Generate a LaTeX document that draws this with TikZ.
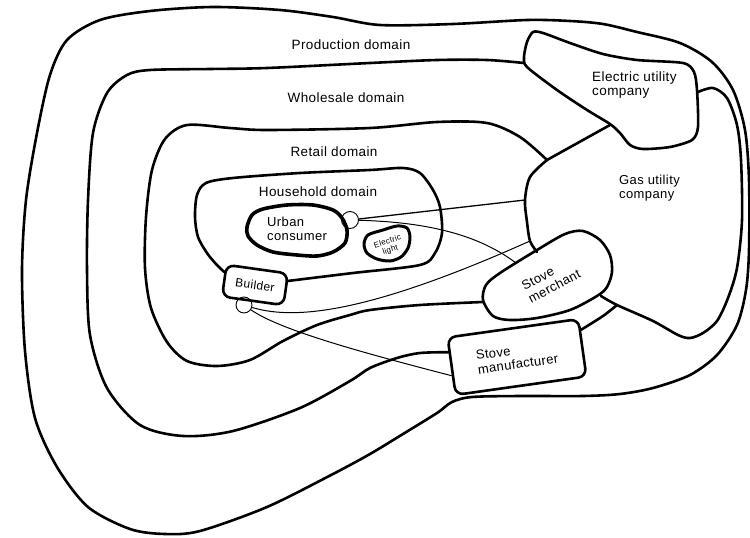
\documentclass[tikz,border=0pt]{standalone}
\usepackage{fontspec}
\setmainfont{Liberation Sans}[LetterSpace=3]
\usetikzlibrary{calc}
\begin{document}
\begin{tikzpicture}[x=1pt,y=-1pt,
  dom/.style={line width=2.6pt,line join=round,line cap=round},
  blob/.style={line width=3pt,line join=round},
  conn/.style={line width=1pt},
  entbox/.style={draw,line width=2.6pt,rounded corners=8pt,inner sep=0pt},
  ring/.style={draw,circle,line width=0.9pt,inner sep=0pt},
  dlabel/.style={font=\fontsize{13.5}{15}\selectfont,inner sep=0pt},
  clabel/.style={font=\fontsize{13}{14.5}\selectfont,align=left,inner sep=0pt}
]
\useasboundingbox (0,0) rectangle (750,538);

% entity nodes
\node[entbox,minimum width=62pt,minimum height=32pt,rotate=-8,font=\fontsize{12}{13}\selectfont] (builder) at (255,285) {Builder};
\node[entbox,minimum width=132pt,minimum height=58pt,rotate=8,align=left,font=\fontsize{13}{14.5}\selectfont] (mfr) at (517,357) {Stove\\manufacturer};
\node[ring,minimum size=17pt] (uc) at (350,220) {};
\node[ring,minimum size=16pt] (bc) at (244,305) {};

% labels
\node[dlabel] (prod) at (351,45) {Production domain};
\node[dlabel] (whole) at (346,98) {Wholesale domain};
\node[dlabel] (retail) at (334,152) {Retail domain};
\node[dlabel] (house) at (318,192) {Household domain};
\node[clabel,anchor=west,font=\fontsize{13.5}{14.5}\selectfont] (elec) at (592,85) {Electric utility\\company};
\node[clabel,anchor=west] (gas) at (619,188) {Gas utility\\company};
\node[clabel,anchor=west] (urban) at (267,229) {Urban\\consumer};
\node[font=\fontsize{8}{9}\selectfont,align=center,rotate=18,inner sep=0pt] (light) at (389,246) {Electric\\light};
\node[clabel,rotate=28] (merch) at (551,280) {Stove\\merchant};

% connector end points on boundaries
\coordinate (g1) at (525,200);
\coordinate (g2) at (530,241);
\coordinate (m1) at (516,263);

% connectors
\draw[conn,line width=1.3pt] (uc) -- (g1);
\draw[conn] (uc) .. controls (420,222) and (475,232) .. (m1);
\draw[conn] (bc) .. controls (300,322) and (380,308) .. (g2);
\draw[conn] (bc) .. controls (280,330) and (360,352) .. (mfr.188);

% production domain (outer)
\draw[dom] plot[smooth cycle] coordinates {(452,402) (437,413) (403,434) (370,454) (333,474) (267,507) (200,531) (165,534) (130,529) (88,507) (57,467) (35,418) (25,351) (22,270) (26,200) (37,133) (50,75) (67,40) (100,20) (150,11) (213,7) (280,10) (333,17) (380,25) (453,24) (527,20) (570,21) (603,24) (637,32) (680,43) (712,62) (733,90) (745,130) (749,180) (749,250) (746,290) (737,325) (717,355) (690,375) (653,388) (620,394) (583,396) (520,396) (472,397)};

% wholesale domain
\draw[dom] plot[smooth] coordinates {(mfr.168) (420,353) (397,358) (370,368) (350,381) (300,408) (233,431) (183,436) (140,425) (107,388) (90,335) (87,270) (88,200) (93,133) (107,93) (127,75) (150,70) (210,69) (267,68) (370,63) (437,60) (487,60) (524,63)};
\draw[dom] plot[smooth] coordinates {(mfr.15) (603,316) (617,305)};
\draw[dom] plot[smooth] coordinates {(698,92) (713,88) (727,98) (737,125) (741,160) (742,220) (737,268) (728,298) (717,321) (703,333) (690,338) (678,335) (653,321) (617,305) (601,296)};

% retail domain
\draw[dom] plot[smooth] coordinates {(483,302) (420,305) (370,310) (350,315) (317,325) (283,341) (250,360) (217,366) (187,361) (167,342) (151,308) (145,268) (146,217) (152,170) (165,139) (187,125) (230,128) (267,130) (370,128) (437,122) (487,123) (520,137) (547,160)};

% gas utility left boundary
\draw[dom] (610,125) -- (547,160);
\draw[dom] plot[smooth] coordinates {(547,160) (530,177) (525,200) (527,222) (530,241) (537,252)};

% electric utility company
\draw[dom] plot[smooth cycle, tension=0.45] coordinates {(533,32) (543,33) (570,43) (603,54) (637,60) (683,63) (694,72) (697,90) (698,127) (692,140) (670,147) (643,149) (630,145) (620,133) (610,124) (587,110) (557,90) (527,67) (524,57) (527,42)};

% household domain
\draw[dom] plot[smooth] coordinates {(builder.15) (353,273) (420,265) (435,253) (442,233) (440,207) (433,190) (420,173) (403,168) (370,170) (300,173) (233,178) (206,183) (197,195) (195,217) (198,237) (207,253) (216,264) (builder.165)};

% stove merchant
\draw[dom] plot[smooth cycle, tension=0.5] coordinates {(493,316) (510,320) (537,318) (570,310) (597,296) (607,287) (612,272) (610,255) (600,240) (583,231) (565,234) (537,250) (500,273) (486,285) (483,300)};

% urban consumer and electric light
\draw[blob,line width=3.6pt] plot[smooth cycle] coordinates {(247,227) (252,215) (263,209) (287,205) (313,205) (333,210) (342,218) (347,230) (345,243) (333,252) (317,256) (297,255) (273,252) (257,245) (248,236)};
\draw[blob] plot[smooth cycle] coordinates {(364,244) (368,235) (383,230) (397,226) (407,228) (410,237) (408,248) (401,257) (390,261) (377,259) (367,253)};
\end{tikzpicture}
\end{document}
